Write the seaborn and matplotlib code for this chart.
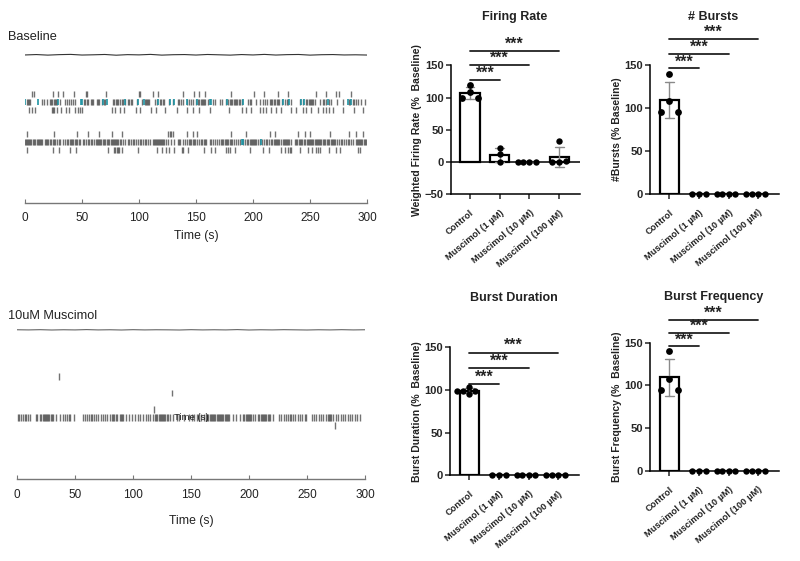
import matplotlib
matplotlib.use("Agg")
import matplotlib.pyplot as plt
import pandas as pd
import seaborn as sns

sns.set_style("ticks")
plt.rcParams['font.family'] = ['Liberation Sans', 'DejaVu Sans']

W, H = 800, 561

groups = ["Control", "Muscimol (1 µM)", "Muscimol (10 µM)", "Muscimol (100 µM)"]

# bar panels
fr_ctrl = [119, 109, 100, 100]
fr_1 = [22, 12, 0]
fr_10 = [0, 0, 0, 0]
fr_100 = [32, 1, 0, 0]

nb_ctrl = [140, 108, 95, 95]
nb_1 = [0, 0, 0]
nb_10 = [0, 0, 0, 0]
nb_100 = [0, 0, 0, 0]

bd_ctrl = [103, 99, 98, 98, 95]
bd_1 = [0, 0, 0]
bd_10 = [0, 0, 0, 0]
bd_100 = [0, 0, 0, 0]

bf_ctrl = [140, 108, 95, 95]
bf_1 = [0, 0, 0]
bf_10 = [0, 0, 0, 0]
bf_100 = [0, 0, 0, 0]

# raster, baseline (seconds)
base_ch8 = [5.8, 8.2, 24.2, 29.2, 33, 43, 53.5, 54, 70.7, 100, 100.7, 112, 116.5, 139, 148, 152.5,
            157.7, 180.5, 200.6, 210, 221.7, 230.7, 255.5, 263.7, 272.5, 275.4, 286]
base_ch7 = [1.6, 2.4, 3.2, 4.0, 14.6, 17, 19, 22, 23, 24, 25, 26, 26.8, 28, 30.3, 35, 36.6, 39, 40.4,
            42.4, 44, 51.5, 53, 54, 55.5, 57.5, 58.5, 60, 62.8, 64, 65, 67.5, 69.5, 70.5, 77, 78,
            79.5, 80.5, 82, 83, 85, 86.2, 88, 90, 91.5, 93, 94, 98, 103, 105, 106, 107, 108, 109,
            114, 115.5, 118, 119.5, 121, 122, 126, 130, 134, 135.5, 137, 139, 142, 144, 145.5, 147,
            150, 152, 153, 154, 155, 156, 157, 158, 160.6, 165, 167, 171, 173, 176.7, 178.5, 179.5,
            181, 182, 183, 184, 185, 186, 187.5, 189, 190, 195.6, 197, 198.6, 203, 206, 209, 210.5,
            212, 215, 216, 217, 218.5, 219.5, 221, 222, 223, 225, 228.5, 229.5, 231, 233.6, 241,
            243.5, 246.5, 247.5, 249, 250, 251, 252, 253, 254, 259, 261, 262.5, 264, 267, 268.6,
            273.6, 279, 284, 285, 287.5, 288.5, 290, 292, 295, 298]
base_ch7_teal = [0.3, 11.2, 29, 49.2, 50.3, 68.5, 71.5, 87.5, 99, 104.5, 116.5, 126.8, 130.5, 142.5,
                 151, 162, 163.5, 177.5, 191.5, 226.5, 232, 242, 245, 265.7, 283, 286]
base_ch6 = [3.8, 5.8, 8.5, 23.4, 24.3, 25.7, 27.7, 31.2, 36, 38.7, 44, 46.1, 48.2, 50.2, 76.5, 78.8,
            83.2, 86.7, 97, 101.3, 110.4, 114.7, 122.6, 133.7, 142.4, 147.4, 152.4, 162, 179, 190.4,
            194.2, 198.6, 206.5, 208.8, 211.7, 216, 220.4, 224.2, 233.6, 238, 243.8, 246.2, 251,
            257, 261.3, 264.2, 267.1, 270.6, 278.8, 288.2, 296.4]
base_ch3 = [2, 25.4, 45.8, 55.5, 65.2, 76, 84.7, 125.6, 127.1, 128.5, 129.4, 141.9, 147.4, 150.9,
            180.5, 193.9, 214.9, 219, 239.5, 245.3, 250.3, 267.8, 284.2, 290.6, 296.4]
base_ch2 = [0.3, 1.2, 2.1, 3, 3.9, 4.8, 5.7, 7.4, 8.3, 9.2, 10.1, 11, 12.5, 13.4, 14.3, 15.2, 17.5,
            18.4, 19.3, 20.2, 21.6, 23, 24.5, 25.4, 26.3, 28, 29.5, 31, 33.5, 35, 36.5, 38, 39.2,
            40.5, 41.5, 42.5, 43.5, 44.7, 46, 47, 48.3, 50.5, 52, 53.5, 55, 56.5, 58, 59, 60.5, 62,
            63, 64, 65, 66, 67, 68, 69, 70, 71.5, 73, 74, 75, 76, 77, 78, 79, 80, 81, 82, 83.2, 84.5,
            86, 87.5, 90, 91.5, 93, 94.5, 96, 97.5, 99, 100.5, 102, 103.5, 105, 106.5, 108, 110,
            112.5, 113.5, 114.3, 115.1, 115.9, 116.7, 117.5, 118.3, 119.1, 119.9, 120.7, 121.5,
            124, 125, 128, 130.5, 134, 135, 136, 139, 140.5, 142, 143.5, 145, 146, 147, 148, 149.5,
            151, 152.5, 154, 155.5, 157, 158, 159, 162, 163.5, 165, 166.5, 168, 170, 171.5, 173, 174,
            175, 176, 177, 178.5, 180, 181, 182, 183.5, 185, 187, 189, 191.5, 193, 194.5, 196, 197,
            198, 199, 200, 201, 202, 203, 204, 206, 208, 209.5, 211, 212.5, 214, 215.5, 217, 218,
            219, 220, 221, 222, 223, 224.5, 226, 227, 228, 229, 230, 231, 232, 233, 237, 238, 239, 240,
            241, 242, 243, 244.5, 246, 247, 248, 249, 250, 251, 252, 253, 254, 255, 256, 257, 258, 259,
            260, 261, 262, 263, 265, 266, 267, 268, 269, 270, 271, 272, 274, 275.5, 277, 278.5, 280,
            281.5, 283, 284.5, 286, 288, 290, 291, 292, 293, 294, 295, 296, 297, 298, 299]
base_ch2_teal = [190, 191.3, 206.8]
base_ch1 = [1.5, 24.8, 30, 39.4, 44.7, 73, 78, 79.2, 80.3, 81.5, 82.7, 85.3, 99.3, 116, 119.8, 123.3,
            126.5, 130.9, 137.3, 138.8, 143.2, 156.8, 163.5, 166.5, 176.7, 178.1, 179.6, 184,
            197.7, 208.8, 214.1, 224.8, 227.8, 230.7, 232.1, 233.6, 241.5, 248.3, 252, 255,
            257, 259, 267.1, 272.9, 275.9, 292, 293.5]
base_trace = [12.88, 12.93, 12.86, 12.92, 12.95, 12.87, 12.9, 12.94, 12.85, 12.92, 12.89, 12.95, 12.86,
              12.91, 12.93, 12.87, 12.94, 12.9, 12.86, 12.93, 12.88, 12.95, 12.87, 12.92, 12.94,
              12.86, 12.91, 12.93, 12.88, 12.9, 12.87]
trace_time = [0, 10, 20, 30, 40, 50, 60, 70, 80, 90, 100, 110, 120, 130, 140, 150, 160, 170, 180, 190,
              200, 210, 220, 230, 240, 250, 260, 270, 280, 290, 300]

# raster, muscimol (seconds)
mus_ch7 = [36.3]
mus_ch5 = [133.7]
mus_ch3 = [118]
mus_ch1 = [274.4]
mus_ch2 = [0.5, 2, 3.5, 5, 6.5, 8, 9.5, 11, 16, 17.5, 20, 21, 22, 23, 24, 25, 26, 27, 28, 29, 30, 31,
           34, 37, 40, 41.5, 43, 44.5, 46, 49, 57, 59, 60.5, 62, 63.5, 65, 66.5, 68, 70, 72, 74, 76,
           78, 80, 82, 83, 84, 85, 86, 88.7, 89.7, 90.7, 91.5, 94, 96.5, 99, 101.5, 104, 106, 109,
           111, 113, 115, 117, 119, 120, 121, 122, 123, 124, 125, 126, 127, 128, 129, 130, 132, 134.6,
           137.5, 140, 144, 148, 151, 153, 155, 157, 159, 161, 163, 164, 165, 166, 167, 168, 169,
           170, 171, 172, 173, 174, 175, 176, 177, 178, 179, 180, 181, 182, 183, 186, 189, 192, 195,
           196, 197, 198, 199, 200, 201, 202, 203.5, 205.5, 207.5, 209, 210, 211, 212, 213, 214, 215,
           216, 217, 218, 221, 226, 228, 230, 232, 233.5, 235, 236.5, 238, 240, 242, 244, 246, 248,
           249, 254, 256, 258, 260, 262, 264, 266, 268, 269, 270, 271, 272, 275, 277, 279, 281, 283,
           285, 287, 289, 291, 293.5, 296]
mus_trace = [12.72, 12.7, 12.73, 12.69, 12.72, 12.7, 12.74, 12.7, 12.72, 12.69, 12.73, 12.7, 12.72, 12.71,
             12.69, 12.73, 12.7, 12.72, 12.7, 12.74, 12.69, 12.72, 12.7, 12.73, 12.71, 12.69, 12.72,
             12.7, 12.73, 12.7, 12.72]

grey_dark = "#3c3c3c"
teal = "#1f93a3"


def px_axes(left, right, top, bottom):
    return fig.add_axes([left / W, 1 - bottom / H, (right - left) / W, (bottom - top) / H])


def raster(ax, rows, teal_rows, trace, ylim, trace_color, xpad):
    for ch, times in rows:
        ax.eventplot(times, lineoffsets=ch, linelengths=0.8, linewidths=1.0, colors=grey_dark, alpha=0.72)
    for ch, times in teal_rows:
        ax.eventplot(times, lineoffsets=ch, linelengths=0.8, linewidths=1.2, colors=teal)
    sns.lineplot(x=trace_time, y=trace, ax=ax, color=trace_color, linewidth=0.8, errorbar=None, estimator=None)
    ax.set_xlim(0, 300)
    ax.set_ylim(*ylim)
    ax.set_xticks([0, 50, 100, 150, 200, 250, 300])
    ax.set_yticks([])
    ax.tick_params(axis="x", direction="in", length=3, width=0.8, color="#777777", labelsize=8.5, pad=7,
                   labelcolor="#222222")
    sns.despine(ax=ax, left=True)
    ax.spines["bottom"].set_color("#777777")
    ax.spines["bottom"].set_linewidth(1.0)
    ax.set_xlabel("Time (s)", fontsize=8.8, labelpad=xpad, color="#222222")


def bar_panel(ax, values, ylim, yticks, ylabel, sig_levels, star_levels):
    df = pd.DataFrame({
        "group": [g for g, v in zip(groups, values) for _ in v],
        "value": [x for v in values for x in v],
    })
    sns.barplot(data=df, x="group", y="value", order=groups, ax=ax, fill=False, color="black",
                width=0.65, linewidth=1.6, errorbar="sd", capsize=0.3,
                err_kws={"color": "#8a8a8a", "linewidth": 1.0})
    # 4 point controls: the two lowest dots sit out on the bar edges
    if len(values[0]) == 4:
        swarm_df = df[df.group != groups[0]]
        sns.scatterplot(x=[0, 0, -0.28, 0.28], y=values[0], ax=ax, color="black", s=24, linewidth=0,
                        clip_on=False, zorder=5, legend=False)
    else:
        swarm_df = df
    sns.swarmplot(data=swarm_df, x="group", y="value", order=groups, ax=ax, color="black", size=4.6,
                  clip_on=False, zorder=5)
    ax.set_xlim(-0.65, 3.7)
    ax.set_ylim(*ylim)
    ax.set_yticks(yticks)
    ax.set_xlabel("")
    ax.set_ylabel(ylabel, fontsize=7.5, fontweight="bold", labelpad=2, color="#222222")
    ax.set_xticks(range(4))
    ax.set_xticklabels(groups, rotation=40, ha="right", rotation_mode="anchor", fontsize=6.7,
                       fontweight="bold", color="#222222")
    ax.tick_params(axis="y", labelsize=8, length=3.5, width=1.1, pad=1.5)
    ax.tick_params(axis="x", length=3.5, width=1.1, pad=6.5)
    for lab in ax.get_yticklabels():
        lab.set_fontweight("bold")
    for s in ["left", "bottom"]:
        ax.spines[s].set_linewidth(1.1)
        ax.spines[s].set_color("black")
    sns.despine(ax=ax)
    if ylim[0] < 0:
        ax.axhline(0, color="black", linewidth=1.1, zorder=1)
    for i, (lvl, star) in enumerate(zip(sig_levels, star_levels)):
        ax.plot([0, i + 1], [lvl, lvl], color="#222222", linewidth=1.3, clip_on=False)
        ax.text((i + 1) / 2, star, "***", ha="center", va="center", fontsize=11.5, fontweight="bold",
                color="#222222", clip_on=False)


fig = plt.figure(figsize=(W / 100, H / 100), dpi=100)

# left rasters
ax1 = px_axes(25, 367, 50, 202.7)
raster(ax1, [(8, base_ch8), (7, base_ch7), (6, base_ch6), (3, base_ch3), (2, base_ch2), (1, base_ch1)],
       [(7, base_ch7_teal), (2, base_ch2_teal)], base_trace, (-5.6, 13.5), "#333333", 4)
ax2 = px_axes(17, 365, 325, 479)
raster(ax2, [(7, mus_ch7), (5, mus_ch5), (3, mus_ch3), (2, mus_ch2), (1, mus_ch1)], [], mus_trace,
       (-5.5, 13.3), "#666666", 10)
ax2.text(150, 1.95, "Time (s)", ha="center", va="center", fontsize=6.8, color="#222222")

fig.text(8 / W, 1 - 37 / H, "Baseline", fontsize=9.2, va="center", color="#222222")
fig.text(8 / W, 1 - 316 / H, "10uM Muscimol", fontsize=9.2, va="center", color="#222222")

# bar charts
ax3 = px_axes(450.7, 580, 65.3, 194.3)
bar_panel(ax3, [fr_ctrl, fr_1, fr_10, fr_100], (-50, 150), [-50, 0, 50, 100, 150],
          "Weighted Firing Rate (%  Baseline)", [127, 150, 172.5], [137.5, 160.5, 182.5])
ax4 = px_axes(650, 779, 65.3, 194)
bar_panel(ax4, [nb_ctrl, nb_1, nb_10, nb_100], (0, 150), [0, 50, 100, 150],
          "#Bursts (% Baseline)", [146.5, 163, 180.7], [154, 171, 188.5])
ax5 = px_axes(450, 579, 347, 475.3)
bar_panel(ax5, [bd_ctrl, bd_1, bd_10, bd_100], (0, 150), [0, 50, 100, 150],
          "Burst Duration (%  Baseline)", [107, 126, 143.5], [114.5, 133.5, 151.5])
ax6 = px_axes(650, 779, 342.7, 471)
bar_panel(ax6, [bf_ctrl, bf_1, bf_10, bf_100], (0, 150), [0, 50, 100, 150],
          "Burst Frequency (%  Baseline)", [145.7, 161, 176.5], [153, 169, 184])

for x, y, title in [(515, 16.7, "Firing Rate"), (713, 16.7, "# Bursts"),
                    (514, 298, "Burst Duration"), (714, 297, "Burst Frequency")]:
    fig.text(x / W, 1 - y / H, title, ha="center", va="center", fontsize=9.0, fontweight="bold", color="#222222")

fig.savefig("out.png", dpi=100)
